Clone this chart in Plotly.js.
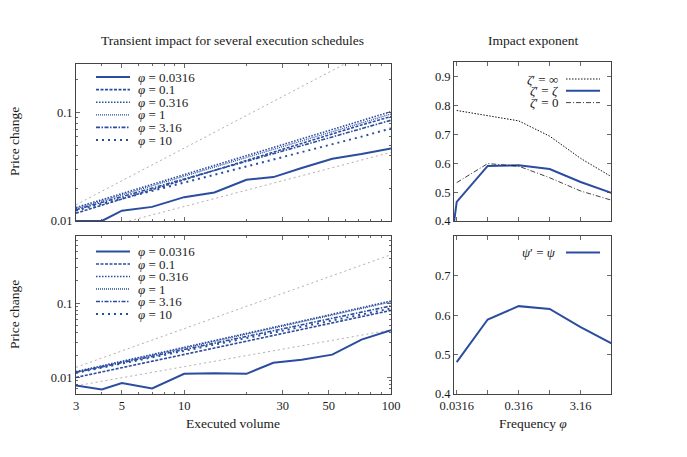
<!DOCTYPE html>
<html>
<head>
<meta charset="utf-8">
<script src="https://cdn.plot.ly/plotly-3.0.1.min.js"></script>
<style>html,body{margin:0;padding:0;background:#fff}#chart{width:687px;height:457px}</style>
</head>
<body>
<div id="chart"></div>
<script>
// ---------- data ----------
const volume = [3, 4, 5, 7, 10, 14, 20, 27, 37, 52, 72, 100];
const phiLabels = ['0.0316', '0.1', '0.316', '1', '3.16', '10'];

// top-left panel (price change vs executed volume)
const topPhi0p0316 = [0.0100, 0.0100, 0.01245, 0.0135, 0.0166, 0.0183, 0.0240, 0.0254, 0.0308, 0.0375, 0.0415, 0.0467];
const topPhi0p1    = [0.0118, 0.0140, 0.0160, 0.0194, 0.0240, 0.0293, 0.0361, 0.0431, 0.0520, 0.0635, 0.0770, 0.0920];
const topPhi0p316  = [0.0133, 0.0157, 0.0179, 0.0218, 0.0268, 0.0325, 0.0400, 0.0477, 0.0572, 0.0698, 0.0843, 0.1020];
const topPhi1      = [0.0130, 0.0153, 0.0174, 0.0211, 0.0259, 0.0314, 0.0385, 0.0458, 0.0548, 0.0666, 0.0803, 0.0970];
const topPhi3p16   = [0.0127, 0.0148, 0.0168, 0.0201, 0.0244, 0.0293, 0.0355, 0.0418, 0.0496, 0.0596, 0.0711, 0.0850];
const topPhi10     = [0.0125, 0.0144, 0.0161, 0.0191, 0.0228, 0.0270, 0.0323, 0.0375, 0.0432, 0.0510, 0.0600, 0.0715];

// bottom-left panel
const botPhi0p0316 = [0.0078, 0.0069, 0.0084, 0.0071, 0.0112, 0.0114, 0.0112, 0.0158, 0.0173, 0.0203, 0.0323, 0.0432];
const botPhi0p1    = [0.0100, 0.0119, 0.0135, 0.0165, 0.0204, 0.0249, 0.0308, 0.0368, 0.0443, 0.0543, 0.0658, 0.0800];
const botPhi0p316  = [0.0120, 0.0144, 0.0165, 0.0204, 0.0254, 0.0314, 0.0392, 0.0473, 0.0575, 0.0712, 0.0872, 0.1070];
const botPhi1      = [0.0118, 0.0141, 0.0162, 0.0200, 0.0249, 0.0307, 0.0384, 0.0462, 0.0561, 0.0694, 0.0848, 0.1040];
const botPhi3p16   = [0.0117, 0.0139, 0.0158, 0.0193, 0.0238, 0.0289, 0.0357, 0.0426, 0.0512, 0.0626, 0.0758, 0.0920];
const botPhi10     = [0.0115, 0.0135, 0.0154, 0.0186, 0.0228, 0.0277, 0.0339, 0.0402, 0.0481, 0.0585, 0.0704, 0.0849];

// grey reference power laws (slope 1 and slope 1/2)
const guideVolume   = [3, 100];
const topGuideSteep = [0.0141, 0.470];
const topGuideFlat  = [0.00745, 0.0430];
const botGuideSteep = [0.0137, 0.450];
const botGuideFlat  = [0.0077, 0.0437];

// right panels (exponents vs frequency phi)
const phi          = [0.0316, 0.1, 0.316, 1, 3.16, 10];
const zetaInf      = [0.783, 0.764, 0.747, 0.694, 0.617, 0.553];
const phiZetaEq    = [0.01, 0.0316, 0.1, 0.316, 1, 3.16, 10];
const zetaEq       = [-0.35, 0.466, 0.591, 0.593, 0.580, 0.535, 0.497];
const zetaZero     = [0.533, 0.599, 0.590, 0.550, 0.504, 0.472];
const psiEq        = [0.481, 0.589, 0.623, 0.616, 0.570, 0.528];

// ---------- styling ----------
const W = 687, H = 457;
const BLUE = '#2b4d9f';
const FONT = 'Liberation Serif, Times New Roman, serif';
const TXT = '#1a1a1a';
const FRAME = '#444';
const px = v => v / W;
const py = v => 1 - v / H;

const phiStyles = [
  {dash: 'solid', width: 2},
  {dash: '3px,1.5px', width: 1.6},
  {dash: '1.5px,1.5px', width: 1.6},
  {dash: '1px,1px', width: 1.3},
  {dash: '4px,1.5px,1.5px,1.5px', width: 1.6},
  {dash: '2px,4px', width: 2}
];

const topSeries = [topPhi0p0316, topPhi0p1, topPhi0p316, topPhi1, topPhi3p16, topPhi10];
const botSeries = [botPhi0p0316, botPhi0p1, botPhi0p316, botPhi1, botPhi3p16, botPhi10];

const traces = [];
function guide(x, y, xa, ya) {
  traces.push({x: x, y: y, xaxis: xa, yaxis: ya, mode: 'lines', showlegend: false, hoverinfo: 'skip',
    line: {color: '#9a9a9a', width: 0.8, dash: '2px,3px'}});
}
guide(guideVolume, topGuideSteep, 'x', 'y');
guide(guideVolume, topGuideFlat, 'x', 'y');
guide(guideVolume, botGuideSteep, 'x2', 'y2');
guide(guideVolume, botGuideFlat, 'x2', 'y2');

topSeries.forEach((s, i) => traces.push({x: volume, y: s, xaxis: 'x', yaxis: 'y', mode: 'lines', showlegend: false,
  name: 'φ = ' + phiLabels[i], line: {color: BLUE, width: phiStyles[i].width, dash: phiStyles[i].dash}}));
botSeries.forEach((s, i) => traces.push({x: volume, y: s, xaxis: 'x2', yaxis: 'y2', mode: 'lines', showlegend: false,
  name: 'φ = ' + phiLabels[i], line: {color: BLUE, width: phiStyles[i].width, dash: phiStyles[i].dash}}));

const zetaStyles = [
  {color: '#111', width: 1, dash: '1.5px,1.5px'},
  {color: BLUE, width: 2, dash: 'solid'},
  {color: '#111', width: 0.8, dash: '5px,2px,1px,2px'}
];
traces.push({x: phi, y: zetaInf, xaxis: 'x3', yaxis: 'y3', mode: 'lines', showlegend: false, line: zetaStyles[0]});
traces.push({x: phiZetaEq, y: zetaEq, xaxis: 'x3', yaxis: 'y3', mode: 'lines', showlegend: false, line: zetaStyles[1]});
traces.push({x: phi, y: zetaZero, xaxis: 'x3', yaxis: 'y3', mode: 'lines', showlegend: false, line: zetaStyles[2]});
traces.push({x: phi, y: psiEq, xaxis: 'x4', yaxis: 'y4', mode: 'lines', showlegend: false, line: {color: BLUE, width: 2}});

// ---------- axes ----------
const tickFont = {family: FONT, size: 12.5, color: TXT};
function baseAxis(extra) {
  return Object.assign({
    showline: true, linecolor: FRAME, linewidth: 1, mirror: 'allticks',
    ticks: 'inside', ticklen: 4, tickcolor: FRAME, tickwidth: 0.8,
    showgrid: false, zeroline: false, tickfont: tickFont, fixedrange: true
  }, extra);
}
const volMinor = [4, 6, 7, 8, 9, 20, 40, 60, 70, 80, 90];
const xLeftTicks = [3, 5, 10, 30, 50, 100];
const priceMinor = [0.006, 0.007, 0.008, 0.009, 0.02, 0.03, 0.04, 0.05, 0.06, 0.07, 0.08, 0.09, 0.2, 0.3, 0.4, 0.5, 0.6, 0.7, 0.8];

const LX = [px(76), px(391)];
const RX = [px(454), px(611)];

const layout = {
  width: W, height: H,
  margin: {l: 0, r: 0, t: 0, b: 0},
  paper_bgcolor: '#fff', plot_bgcolor: '#fff',
  font: {family: FONT, color: TXT, size: 12},
  showlegend: false,
  xaxis: baseAxis({type: 'log', domain: LX, anchor: 'y', range: [Math.log10(3), 2],
    tickmode: 'array', tickvals: xLeftTicks, showticklabels: false,
    minor: {tickmode: 'array', tickvals: volMinor, ticks: 'inside', ticklen: 2, tickcolor: FRAME}}),
  yaxis: baseAxis({type: 'log', domain: [py(221), py(63.5)], anchor: 'x', range: [-2, -0.547],
    tickmode: 'array', tickvals: [0.01, 0.1], ticktext: ['0.01', '0.1'],
    minor: {tickmode: 'array', tickvals: priceMinor, ticks: 'inside', ticklen: 2, tickcolor: FRAME}}),
  xaxis2: baseAxis({type: 'log', domain: LX, anchor: 'y2', range: [Math.log10(3), 2],
    tickmode: 'array', tickvals: xLeftTicks, ticktext: xLeftTicks.map(String),
    minor: {tickmode: 'array', tickvals: volMinor, ticks: 'inside', ticklen: 2, tickcolor: FRAME}}),
  yaxis2: baseAxis({type: 'log', domain: [py(393.5), py(236)], anchor: 'x2', range: [-2.216, -0.095],
    tickmode: 'array', tickvals: [0.01, 0.1], ticktext: ['0.01', '0.1'],
    minor: {tickmode: 'array', tickvals: priceMinor, ticks: 'inside', ticklen: 2, tickcolor: FRAME}}),
  xaxis3: baseAxis({type: 'log', domain: RX, anchor: 'y3', range: [-1.544, 0.99],
    tickmode: 'array', tickvals: phi.slice(0, 5), showticklabels: false}),
  yaxis3: baseAxis({domain: [py(221), py(62)], anchor: 'x3', range: [0.4, 0.951],
    tickmode: 'array', tickvals: [0.4, 0.5, 0.6, 0.7, 0.8, 0.9], ticktext: ['0.4', '0.5', '0.6', '0.7', '0.8', '0.9']}),
  xaxis4: baseAxis({type: 'log', domain: RX, anchor: 'y4', range: [-1.544, 0.99],
    tickmode: 'array', tickvals: phi.slice(0, 5), ticktext: ['0.0316', '', '0.316', '', '3.16']}),
  yaxis4: baseAxis({domain: [py(394), py(236)], anchor: 'x4', range: [0.4, 0.801],
    tickmode: 'array', tickvals: [0.4, 0.5, 0.6, 0.7], ticktext: ['0.4', '0.5', '0.6', '0.7']}),
  annotations: [],
  shapes: []
};

function text(t, x, y, opts) {
  layout.annotations.push(Object.assign({text: t, xref: 'paper', yref: 'paper', x: px(x), y: py(y),
    showarrow: false, xanchor: 'center', yanchor: 'middle', borderpad: 0,
    font: {family: FONT, size: 13.5, color: TXT}}, opts || {}));
}
function sample(x0, x1, y, line) {
  layout.shapes.push({type: 'line', xref: 'paper', yref: 'paper', x0: px(x0), x1: px(x1), y0: py(y), y1: py(y),
    line: {color: line.color, width: line.width, dash: line.dash}});
}

// titles
text('Transient impact for several execution schedules', 233, 40);
text('Impact exponent', 533, 40);
text('Price change', 14, 142, {textangle: -90});
text('Price change', 14, 315, {textangle: -90});
text('Executed volume', 233, 423);
text('Frequency <i>φ</i>', 533, 423);

const LEG_FONT = {family: FONT, size: 13, color: TXT};
// left legends
[[77, 12.6], [251.5, 12.5]].forEach(([y0, step]) => {
  phiLabels.forEach((lab, i) => {
    const y = y0 + i * step;
    sample(96, 130, y, {color: BLUE, width: phiStyles[i].width, dash: phiStyles[i].dash});
    text('<i>φ</i> = ' + lab, 137, y, {xanchor: 'left', font: LEG_FONT});
  });
});

// right legends
const zetaLabels = ['<i>ζ</i>′ = ∞', '<i>ζ</i>′ = <i>ζ</i>', '<i>ζ</i>′ = 0'];
zetaLabels.forEach((lab, i) => {
  const y = 79 + i * 11.8;
  sample(566, 600, y, zetaStyles[i]);
  text(lab, 559, y, {xanchor: 'right', font: LEG_FONT});
});
sample(566, 600, 252.5, {color: BLUE, width: 2, dash: 'solid'});
text('<i>ψ</i>′ = <i>ψ</i>', 557, 252.5, {xanchor: 'right', font: LEG_FONT});

Plotly.newPlot('chart', traces, layout, {staticPlot: true, displayModeBar: false});
</script>
</body>
</html>
